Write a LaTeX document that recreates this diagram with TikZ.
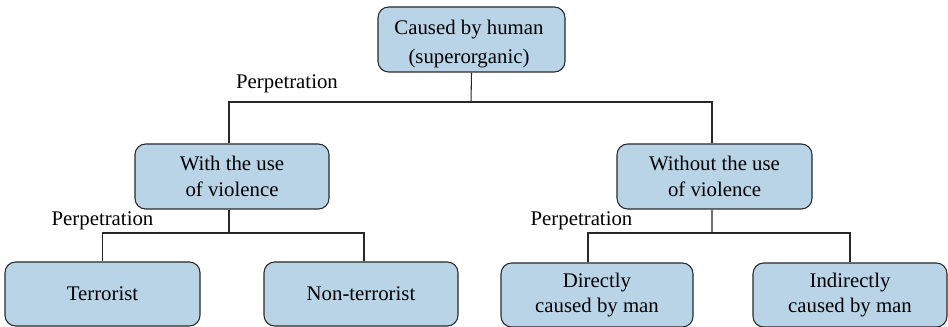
\documentclass[tikz,border=0pt]{standalone}
\usepackage{fontspec}
\setmainfont{Liberation Serif}
\newfontfamily\tnr{Liberation Serif}
\definecolor{boxfill}{RGB}{184,212,230}
\definecolor{ink}{RGB}{40,40,40}
\begin{document}
\begin{tikzpicture}[x=0.75pt,y=-0.75pt,
  box/.style={draw=ink,fill=boxfill,rounded corners=8pt,line width=0.8pt,
    align=center,inner sep=0pt,font=\tnr\fontsize{15.6}{19.2}\selectfont},
  txt/.style={align=center,inner sep=0pt,font=\tnr\fontsize{15.6}{21.5}\selectfont},
  lbl/.style={font=\tnr\fontsize{15.6}{19.2}\selectfont,inner sep=0pt},
  conn/.style={draw=ink,line width=0.8pt}]
\useasboundingbox (0,0) rectangle (948,327);
\node[box,minimum width=187*0.75pt,minimum height=65*0.75pt] (top) at (471.5,39.5) {};
\node[txt] (toptxt) at (469,44) {Caused by human\\(superorganic)};
\node[box,minimum width=194*0.75pt,minimum height=65*0.75pt] (ml) at (232,176.5) {With the use\\of violence};
\node[box,minimum width=195*0.75pt,minimum height=65*0.75pt] (mr) at (714.5,176.5) {Without the use\\of violence};
\node[box,minimum width=195*0.75pt,minimum height=64*0.75pt] (t) at (102.5,294) {Terrorist};
\node[box,minimum width=194*0.75pt,minimum height=64*0.75pt] (nt) at (361,294) {Non-terrorist};
\node[box,minimum width=192*0.75pt,minimum height=64*0.75pt] (d) at (597,295) {Directly\\caused by man};
\node[box,minimum width=194*0.75pt,minimum height=64*0.75pt] (i) at (850,295) {Indirectly\\caused by man};
\node[lbl] (p1) at (287,84) {Perpetration};
\node[lbl] (p2) at (102.5,221) {Perpetration};
\node[lbl] (p3) at (581.5,221) {Perpetration};
\coordinate (b1) at (471,102);
\coordinate (b2) at (229,233);
\coordinate (b3) at (712,233);
\draw[conn] (top.south) -- (b1);
\draw[conn] ([xshift=-2.25pt]ml.north) |- (b1) -| ([xshift=-1.9pt]mr.north);
\draw[conn] ([xshift=-2.25pt]ml.south) -- (b2);
\draw[conn] (t.north) |- (b2) -| ([xshift=2.25pt]nt.north);
\draw[conn] ([xshift=-1.9pt]mr.south) -- (b3);
\draw[conn] ([xshift=-6.75pt]d.north) |- (b3) -| (i.north);
\end{tikzpicture}
\end{document}
